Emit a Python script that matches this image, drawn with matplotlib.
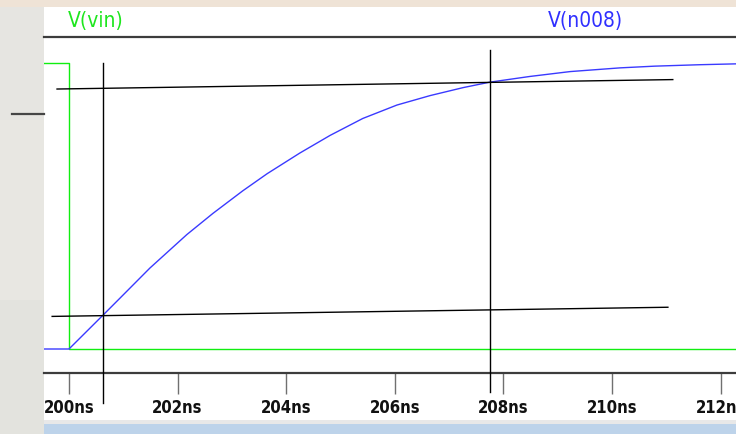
import matplotlib
matplotlib.use("Agg")
import matplotlib.pyplot as plt
from matplotlib import font_manager
from matplotlib.patches import Rectangle
from matplotlib.lines import Line2D

# ---- waveform data (time in ns, voltage normalised to the input swing) ----
vin_t = [199.54, 200.00, 200.00, 212.28]
vin_v = [1.0, 1.0, 0.0, 0.0]

out_t = [199.54, 200.00, 200.63, 200.94, 201.49, 202.17, 202.65, 203.20,
         203.65, 204.25, 204.81, 205.41, 206.04, 206.65, 207.26, 207.75,
         208.49, 209.23, 210.15, 210.79, 211.62, 212.28]
out_v = [0.0, 0.0, 0.119, 0.178, 0.283, 0.400, 0.474, 0.553,
         0.613, 0.685, 0.747, 0.806, 0.853, 0.886, 0.914, 0.933,
         0.953, 0.970, 0.983, 0.989, 0.994, 0.997]

# cursor markers: 10% / 90% levels and the crossing times
cursor_times = [200.63, 207.75]
cursor_tops = [1.0, 1.045]
cursor_bottoms = [-0.189, -0.150]
level_lo_t = [199.69, 211.03]
level_lo_v = [0.114, 0.146]
level_hi_t = [199.78, 211.12]
level_hi_v = [0.909, 0.942]

tick_vals = [200, 202, 204, 206, 208, 210, 212]
tick_labels = ["200ns", "202ns", "204ns", "206ns", "208ns", "210ns", "212ns"]
trace_names = ["V(vin)", "V(n008)"]

x_range = (199.54, 212.284)
y_range = (-0.0839, 1.0909)

W, H = 736, 434

# prefer a narrow face for the viewer's labels when one is available
fonts = font_manager.fontManager.ttflist
names = {f.name for f in fonts}
if "Liberation Sans Narrow" in names:
    label_family, label_stretch = "Liberation Sans Narrow", "normal"
elif any(f.name == "DejaVu Sans" and f.stretch == "condensed" for f in fonts):
    label_family, label_stretch = "DejaVu Sans", "condensed"
else:
    label_family, label_stretch = "Liberation Sans", "normal"

fig = plt.figure(figsize=(W / 100, H / 100), dpi=100)
fig.patch.set_facecolor("#e4e3de")


def px_rect(x0, y0, x1, y1, color, z=0):
    """Rectangle given in pixel coordinates measured from the top-left."""
    fig.add_artist(Rectangle((x0 / W, 1 - y1 / H), (x1 - x0) / W, (y1 - y0) / H,
                             transform=fig.transFigure, facecolor=color,
                             edgecolor="none", zorder=z))


# backdrop around the viewer window
px_rect(0, 0, W, 7, "#efe3d6")
px_rect(0, 7, 44, 120, "#e6e5e1")
px_rect(0, 120, 44, 300, "#e8e7e2")
px_rect(0, 300, 44, H, "#e3e3de")
fig.add_artist(Line2D([12 / W, 44 / W], [1 - 114 / H] * 2, color="#454545",
                      lw=1.6, transform=fig.transFigure))

# viewer window body, status line and bottom strip
px_rect(44, 7, W, 421, "white")
px_rect(44, 420, W, 424, "#e8e8e8")
px_rect(44, 424, W, H, "#bdd3ea")

# trace names in the header
fig.text(96 / W, 1 - 21 / H, trace_names[0], color="#1ee61e", ha="center",
         va="center", fontsize=15, family=label_family, stretch=label_stretch)
fig.text(585 / W, 1 - 21 / H, trace_names[1], color="#3030ff", ha="center",
         va="center", fontsize=15, family=label_family, stretch=label_stretch)

ax = fig.add_axes([44 / W, 61 / H, (W - 44) / W, 336 / H])
ax.set_facecolor("none")
ax.set_xlim(*x_range)
ax.set_ylim(*y_range)
for side in ("left", "right"):
    ax.spines[side].set_visible(False)
for side in ("top", "bottom"):
    ax.spines[side].set_color("#3c3c3c")
    ax.spines[side].set_linewidth(1.6)

ax.plot(vin_t, vin_v, color="#10ee10", lw=1.0, zorder=3)
ax.plot(out_t, out_v, color="#3a3aff", lw=1.0, zorder=4)

ax.plot(level_hi_t, level_hi_v, color="black", lw=1.0, zorder=5)
ax.plot(level_lo_t, level_lo_v, color="black", lw=1.0, zorder=5)
for t, top, bot in zip(cursor_times, cursor_tops, cursor_bottoms):
    ax.plot([t, t], [bot, top], color="black", lw=1.0, zorder=5, clip_on=False)

ax.set_yticks([])
ax.set_xticks(tick_vals)
ax.set_xticklabels(tick_labels, family=label_family, stretch=label_stretch,
                   fontweight="bold", fontsize=12, color="#111111")
ax.tick_params(axis="x", direction="out", length=15, width=1.0, color="#707070",
               pad=4)

fig.savefig("out.png", dpi=100, facecolor=fig.get_facecolor())
